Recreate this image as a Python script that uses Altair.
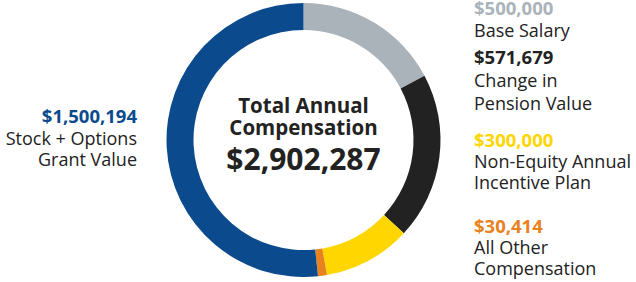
import altair as alt
import pandas as pd

# ---- data ----
categories = ["Base Salary", "Change in Pension Value", "Non-Equity Annual Incentive Plan",
              "All Other Compensation", "Stock + Options Grant Value"]
values = [500000, 571679, 300000, 30414, 1500194]
colors = ["#aab3ba", "#222222", "#ffd600", "#e8821e", "#0b4a8c"]
label_colors = ["#aab3ba", "#222222", "#ffd600", "#e8821e", "#0b4a8c"]
desc_lines = [["Base Salary"], ["Change in", "Pension Value"], ["Non-Equity Annual", "Incentive Plan"],
              ["All Other", "Compensation"], ["Stock + Options", "Grant Value"]]
center_title = ["Total Annual", "Compensation"]

total = sum(values)
FONT = "Open Sans"
CX, CY = 303.5, 140

df = pd.DataFrame({"category": categories, "value": values, "order": list(range(len(values)))})

donut = alt.Chart(df).mark_arc(outerRadius=137, innerRadius=110, stroke=None).encode(
    theta=alt.Theta("value:Q", stack=True),
    order=alt.Order("order:Q"),
    color=alt.Color("category:N", scale=alt.Scale(domain=categories, range=colors), legend=None),
    x=alt.value(CX), y=alt.value(CY),
)

one = pd.DataFrame({"k": [0]})

def txt(text, x, y, color="#222222", size=18.5, weight="normal", align="left", line_height=22):
    return alt.Chart(one).mark_text(
        text=text, font=FONT, fontSize=size, fontWeight=weight, color=color,
        align=align, baseline="alphabetic", lineHeight=line_height,
    ).encode(x=alt.value(x), y=alt.value(y))

layers = [donut]
# right-side labels (index 0..3), left label (index 4)
right_pos = [(15, 37, 22), (64, 87, 23), (147, 168, 21), (233, 254, 21)]
for i, (ya, yd, lh) in enumerate(right_pos):
    layers.append(txt(f"${values[i]:,}", 474, ya, color=label_colors[i], size=18.5, weight="bold"))
    layers.append(txt(desc_lines[i], 474, yd, size=18, line_height=lh))
layers.append(txt(f"${values[4]:,}", 137, 123, color=label_colors[4], size=18.5, weight="bold", align="right"))
layers.append(txt(desc_lines[4], 137, 145, size=18, align="right", line_height=21))

# center text
layers.append(txt(center_title, CX, 113, size=20.5, weight="bold", align="center", line_height=22))
layers.append(txt(f"${total:,}", CX, 170, size=30, weight="bold", align="center"))

chart = alt.layer(*layers).properties(
    width=636, height=282, padding=0, autosize=alt.AutoSizeParams(type="none"),
    background="white",
).configure_view(stroke=None)

chart.save("out.html", embed_options={"renderer": "svg", "actions": False})
